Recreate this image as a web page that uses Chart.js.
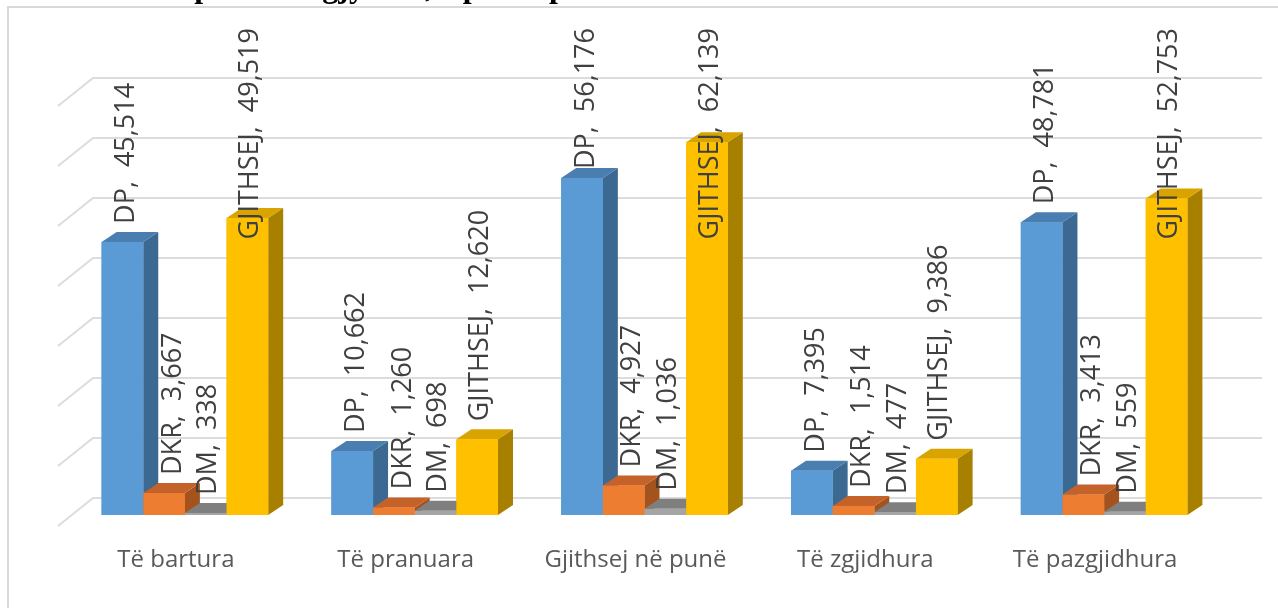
<!DOCTYPE html>
<html>
<head>
<meta charset="utf-8">
<script src="https://cdn.jsdelivr.net/npm/chart.js@4"></script>
<style>
    body { margin: 0; width: 1278px; height: 608px; overflow: hidden; background: #fff; position: relative; }
    #frame { position: absolute; left: 7px; top: 6px; width: 1300px; height: 700px; border: 2px solid #D9D9D9; box-sizing: border-box; }
    #chart { position: absolute; left: 0; top: 0; }
    #title { position: absolute; left: 68px; top: -32px; font: bold 32px "Liberation Serif", serif; line-height: 37px; color: #000; white-space: nowrap; z-index: 2; }
</style>
</head>
<body>
<div id="frame"></div>
<div id="title">Lëndët e punës në gjykata, sipas departamenteve</div>
<canvas id="chart" width="1278" height="608"></canvas>
<script>
// Te dhenat e grafikut
const categories = ['Të bartura', 'Të pranuara', 'Gjithsej në punë', 'Të zgjidhura', 'Të pazgjidhura'];
const seriesNames = ['DP', 'DKR', 'DM', 'GJITHSEJ'];
const dpValues = [45514, 10662, 56176, 7395, 48781];
const dkrValues = [3667, 1260, 4927, 1514, 3413];
const dmValues = [338, 698, 1036, 477, 559];
const totalValues = [49519, 12620, 62139, 9386, 52753];
const yTicks = [0, 10000, 20000, 30000, 40000, 50000, 60000, 70000];

// ngjyrat: ballina, maja, ana
const faceColors = [
    ['#5B9BD5', '#4A7DB0', '#3C6991'],
    ['#ED7D31', '#C4622A', '#A5531C'],
    ['#A5A5A5', '#7F7F7F', '#6B6B6B'],
    ['#FFC000', '#D9A300', '#A88000']
];
const labelShift = [4, 9, 3, 3];
const DX = 15, DY = 10;

// Efekti 3D i shtyllave dhe vijat e murit te pasem
const bars3d = {
    id: 'bars3d',
    beforeDatasetsDraw(chart) {
        const { ctx, chartArea, scales: { y } } = chart;
        ctx.save();
        ctx.strokeStyle = '#DCDCDC';
        ctx.lineWidth = 2;
        yTicks.forEach(v => {
            const py = y.getPixelForValue(v) - 17;
            ctx.beginPath();
            ctx.moveTo(chartArea.left - 12, py + 28);
            ctx.lineTo(chartArea.left + 23, py);
            ctx.lineTo(chartArea.right + 43, py);
            ctx.stroke();
        });
        ctx.restore();
    },
    afterDatasetsDraw(chart) {
        const ctx = chart.ctx;
        ctx.save();
        categories.forEach((c, i) => {
            chart.data.datasets.forEach((ds, d) => {
                const bar = chart.getDatasetMeta(d).data[i];
                const { x, y, base, width } = bar.getProps(['x', 'y', 'base', 'width'], true);
                const l = x - width / 2, r = x + width / 2;
                const col = faceColors[d];
                // ana
                ctx.fillStyle = col[2];
                ctx.beginPath();
                ctx.moveTo(r, y); ctx.lineTo(r + DX, y - DY); ctx.lineTo(r + DX, base - DY); ctx.lineTo(r, base);
                ctx.closePath(); ctx.fill();
                // maja
                ctx.fillStyle = col[1];
                ctx.beginPath();
                ctx.moveTo(l, y); ctx.lineTo(r, y); ctx.lineTo(r + DX, y - DY); ctx.lineTo(l + DX, y - DY);
                ctx.closePath(); ctx.fill();
                // ballina
                ctx.fillStyle = col[0];
                ctx.fillRect(l, y, width, base - y);
            });
        });
        ctx.restore();
    },
    afterDraw(chart) {
        const ctx = chart.ctx;
        ctx.save();
        ctx.font = '27px "Open Sans"';
        ctx.fillStyle = '#404040';
        ctx.textAlign = 'left';
        ctx.textBaseline = 'middle';
        chart.data.datasets.forEach((ds, d) => {
            chart.getDatasetMeta(d).data.forEach((bar, i) => {
                const text = seriesNames[d] + ',  ' + ds.data[i].toLocaleString('en-US');
                const w = ctx.measureText(text).width;
                let bottom = bar.y - 18;
                if (bottom - w < 28) bottom = 28 + w;
                ctx.save();
                ctx.translate(bar.x + labelShift[d], bottom);
                ctx.rotate(-Math.PI / 2);
                ctx.fillText(text, 0, 0);
                ctx.restore();
            });
        });
        ctx.restore();
    }
};

const ctx = document.getElementById('chart').getContext('2d');
const myChart = new Chart(ctx, {
    type: 'bar',
    data: {
        labels: categories,
        datasets: [
            { label: seriesNames[0], data: dpValues, backgroundColor: faceColors[0][0] },
            { label: seriesNames[1], data: dkrValues, backgroundColor: faceColors[1][0] },
            { label: seriesNames[2], data: dmValues, backgroundColor: faceColors[2][0] },
            { label: seriesNames[3], data: totalValues, backgroundColor: faceColors[3][0] }
        ]
    },
    options: {
        responsive: false,
        animation: false,
        layout: { padding: { left: 70, right: 59, top: 95, bottom: 0 } },
        datasets: { bar: { categoryPercentage: 0.725, barPercentage: 1, borderWidth: 0 } },
        plugins: { legend: { display: false }, tooltip: { enabled: false } },
        scales: {
            x: {
                grid: { display: false, drawTicks: false },
                border: { display: false },
                afterFit(scale) { scale.height = 93; },
                ticks: {
                    color: '#595959',
                    font: { family: 'Open Sans', size: 24 },
                    padding: 31,
                    labelOffset: -9,
                    maxRotation: 0,
                    autoSkip: false
                }
            },
            y: {
                display: false,
                min: 0,
                max: 70000,
                ticks: { stepSize: 10000 }
            }
        }
    },
    plugins: [bars3d]
});
</script>
</body>
</html>
